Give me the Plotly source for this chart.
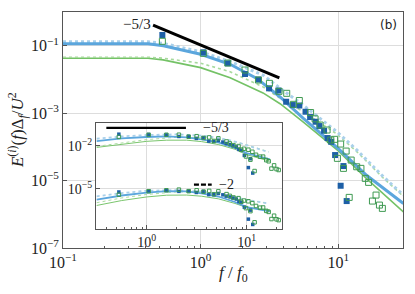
import numpy as np
import plotly.graph_objects as go

# ---------------- data (log10 values) ----------------
# main panel model curves: log10(f/f0), log10(E)
blue_line_lf = [-1, -0.382, -0.271, 0, 0.214, 0.408, 0.577, 0.744, 1.0, 1.207, 1.473]
blue_line_lE = [-0.94, -0.94, -1.0, -1.255, -1.55, -1.97, -2.52, -3.15, -4.05, -4.85, -5.68]
lblue_line_lf = [-1, -0.382, -0.273, 0, 0.214, 0.453, 0.577, 0.744, 0.989, 1.134, 1.328, 1.473]
lblue_line_lE = [-0.88, -0.88, -0.93, -1.18, -1.47, -1.87, -2.26, -2.76, -3.55, -4.09, -4.89, -5.43]
green_line_lf = [-1, -0.382, -0.273, 0, 0.214, 0.453, 0.577, 0.744, 1.0, 1.207, 1.473]
green_line_lE = [-1.37, -1.37, -1.42, -1.65, -1.95, -2.40, -2.72, -3.26, -4.12, -4.95, -5.93]
lgreen_line_lf = [-1, -0.382, -0.273, 0, 0.214, 0.453, 0.577, 0.744, 0.989, 1.134, 1.328, 1.473]
lgreen_line_lE = [-1.34, -1.34, -1.37, -1.52, -1.77, -2.22, -2.56, -2.95, -3.62, -4.14, -4.93, -5.47]

# measured spectra (markers)
blue_f = [0.527, 1.046, 1.574, 2.10, 2.63, 3.14, 3.67, 4.18, 4.67, 5.21, 5.78, 6.24, 6.84,
          7.29, 7.88, 8.36, 8.87, 9.48, 10.9, 10.4, 11.5]
blue_lE = [-0.682, -1.196, -1.522, -1.840, -2.003, -2.264, -2.329, -2.662, -2.760, -2.774, -2.958,
           -3.116, -3.255, -3.383, -3.522, -3.739, -3.849, -4.243, -4.570, -5.154, -5.608]
green_f = [0.527, 1.046, 1.574, 2.10, 2.63, 3.16, 3.71, 4.22, 4.72, 5.21, 6.29, 6.78, 7.38, 8.29,
           8.82, 9.40, 10.4, 11.4, 9.85, 10.9, 12.4, 13.6, 14.6, 15.7, 16.6, 12.0, 17.7, 18.8, 19.9, 20.9]
green_lE = [-0.869, -1.226, -1.513, -1.721, -2.018, -2.116, -2.353, -2.412, -2.739, -2.626, -2.982,
            -3.169, -3.353, -3.501, -3.798, -3.777, -3.917, -4.125, -4.341, -4.638, -4.392, -4.591,
            -4.638, -4.935, -5.053, -5.499, -5.608, -5.430, -5.727, -5.825]

# -5/3 guide line in main panel
guide_f = [0.451, 3.73]
guide_E = [0.411, 0.0112]

# inset: compensated spectra (upper group ~ f^(5/3) E, lower group ~ f^2 E), log10 values
in_blue_up = [-1.205, -1.223, -1.254, -1.362, -1.365, -1.496, -1.447, -1.687, -1.705, -1.639, -1.748,
              -1.851, -1.923, -2.004, -2.087, -2.262, -2.329, -2.674, -2.901, -3.517, -3.898]
in_blue_lo = [-5.208, -5.127, -5.098, -5.164, -5.135, -5.240, -5.169, -5.390, -5.392, -5.310, -5.404,
              -5.496, -5.555, -5.627, -5.698, -5.865, -5.923, -6.259, -6.466, -7.088, -7.454]
in_green_up = [-1.392, -1.253, -1.245, -1.243, -1.380, -1.344, -1.463, -1.429, -1.675, -1.491, -1.710,
               -1.844, -1.966, -2.029, -2.283, -2.215, -2.280, -2.423, -2.746, -2.969, -2.630, -2.761,
               -2.759, -3.003, -3.081, -3.757, -3.588, -3.365, -3.622, -3.685]
in_green_lo = [-5.395, -5.157, -5.089, -5.045, -5.150, -5.088, -5.183, -5.130, -5.361, -5.162, -5.354,
               -5.477, -5.587, -5.633, -5.878, -5.801, -5.851, -5.981, -6.325, -6.534, -6.176, -6.293,
               -6.282, -6.515, -6.585, -7.307, -7.082, -6.850, -7.099, -7.155]

in_line_lf = [-0.5, -0.25, 0, 0.2, 0.4, 0.55, 0.716, 0.883, 1.0, 1.233]
in_blue_line_up = [-1.68, -1.50, -1.40, -1.36, -1.42, -1.56, -1.78, -2.15, -2.52, -2.95]
in_blue_line_lo = [-5.74, -5.45, -5.25, -5.15, -5.17, -5.30, -5.52, -5.90, -6.25, -6.55]
in_green_line_up = [-2.12, -1.90, -1.70, -1.62, -1.62, -1.72, -1.92, -2.25, -2.62, -3.08]
in_green_line_lo = [-6.14, -5.80, -5.55, -5.43, -5.42, -5.50, -5.68, -6.00, -6.28, -6.45]
in_dot_lf = [-0.5, -0.25, 0, 0.3, 0.55, 0.75, 0.9, 1.0, 1.22]
in_lblue_line_up = [-1.52, -1.36, -1.26, -1.22, -1.30, -1.50, -1.75, -1.97, -2.45]
in_lblue_line_lo = [-5.51, -5.28, -5.12, -5.08, -5.18, -5.38, -5.60, -5.75, -6.00]
in_lgreen_line_up = [-2.05, -1.80, -1.58, -1.42, -1.42, -1.55, -1.75, -1.95, -2.42]
in_lgreen_line_lo = [-5.95, -5.62, -5.38, -5.20, -5.22, -5.38, -5.58, -5.75, -6.00]

in_guide53_f = [0.395, 2.47]
in_guide53_y = [0.168, 0.168]
in_guide2_f = [2.97, 4.47]
in_guide2_y = [2.0e-5, 2.0e-5]

main_xticks = [0.1, 1, 10]
main_xtext = ["10<sup>−1</sup>", "10<sup>0</sup>", "10<sup>1</sup>"]
main_xminor = [0.2, 0.3, 0.4, 0.5, 0.6, 0.7, 0.8, 0.9, 2, 3, 4, 5, 6, 7, 8, 9, 20, 30]
main_yticks = [1e-1, 1e-3, 1e-5, 1e-7]
main_ytext = ["10<sup>−1</sup>", "10<sup>−3</sup>", "10<sup>−5</sup>", "10<sup>−7</sup>"]
in_xticks = [1, 10]
in_xtext = ["10<sup>0</sup>", "10<sup>1</sup>"]
in_xminor = [0.4, 0.5, 0.6, 0.7, 0.8, 0.9, 2, 3, 4, 5, 6, 7, 8, 9, 20]
in_yticks = [1e-2, 1e-5]
in_ytext = ["10<sup>−2</sup>", "10<sup>−5</sup>"]

# ---------------- styling ----------------
C_BLUE = "#5ba6dd"
C_LBLUE = "#a9d0ea"
C_GREEN = "#74c266"
C_LGREEN = "#a7da9d"
C_MBLUE = "#1d5fa6"
C_MGREEN = "#3f9a52"
FONT = "Liberation Serif"


def p10(a):
    return 10 ** np.asarray(a, dtype=float)


fig = go.Figure()


def add_lines(xa, ya, lf_b, lE_b, lf_lb, lE_lb, lf_g, lE_g, lf_lg, lE_lg, scale=1.0):
    fig.add_trace(go.Scatter(x=p10(lf_g), y=p10(lE_g), mode="lines", xaxis=xa, yaxis=ya,
                             line=dict(color=C_GREEN, width=1.6 * scale), showlegend=False))
    fig.add_trace(go.Scatter(x=p10(lf_lg), y=p10(lE_lg), mode="lines", xaxis=xa, yaxis=ya,
                             line=dict(color=C_LGREEN, width=1.6 * scale, dash="dot"), showlegend=False))
    fig.add_trace(go.Scatter(x=p10(lf_lb), y=p10(lE_lb), mode="lines", xaxis=xa, yaxis=ya,
                             line=dict(color=C_LBLUE, width=3.0 * scale, dash="dot"), showlegend=False))
    fig.add_trace(go.Scatter(x=p10(lf_b), y=p10(lE_b), mode="lines", xaxis=xa, yaxis=ya,
                             line=dict(color=C_BLUE, width=3.0 * scale), showlegend=False))


def add_markers(xa, ya, bf, bE, gf, gE, size):
    fig.add_trace(go.Scatter(x=bf, y=p10(bE), mode="markers", xaxis=xa, yaxis=ya,
                             marker=dict(symbol="square", size=size, color=C_MBLUE,
                                         line=dict(width=0)), showlegend=False))
    fig.add_trace(go.Scatter(x=gf, y=p10(gE), mode="markers", xaxis=xa, yaxis=ya,
                             marker=dict(symbol="square-open", size=size, color=C_MGREEN,
                                         line=dict(width=1)), showlegend=False))


# main panel
add_lines("x", "y", blue_line_lf, blue_line_lE, lblue_line_lf, lblue_line_lE,
          green_line_lf, green_line_lE, lgreen_line_lf, lgreen_line_lE)
add_markers("x", "y", blue_f, blue_lE, green_f, green_lE, 6)
fig.add_trace(go.Scatter(x=guide_f, y=guide_E, mode="lines", line=dict(color="black", width=3),
                         showlegend=False))

# inset
add_lines("x2", "y2", in_line_lf, in_blue_line_up, in_dot_lf, in_lblue_line_up,
          in_line_lf, in_green_line_up, in_dot_lf, in_lgreen_line_up, scale=0.6)
add_lines("x2", "y2", in_line_lf, in_blue_line_lo, in_dot_lf, in_lblue_line_lo,
          in_line_lf, in_green_line_lo, in_dot_lf, in_lgreen_line_lo, scale=0.6)
add_markers("x2", "y2", blue_f, in_blue_up, green_f, in_green_up, 3.5)
add_markers("x2", "y2", blue_f, in_blue_lo, green_f, in_green_lo, 3.5)
fig.add_trace(go.Scatter(x=in_guide53_f, y=in_guide53_y, mode="lines", xaxis="x2", yaxis="y2",
                         line=dict(color="black", width=2.2), showlegend=False))
fig.add_trace(go.Scatter(x=in_guide2_f, y=in_guide2_y, mode="lines", xaxis="x2", yaxis="y2",
                         line=dict(color="black", width=2.2, dash="5px,2px"), showlegend=False))

axis_common = dict(type="log", showline=True, linecolor="#555555", linewidth=1, mirror=True,
                   showgrid=True, gridcolor="#dddddd", gridwidth=1, zeroline=False,
                   ticks="inside", ticklen=4, tickcolor="#555555")

fig.update_layout(
    width=415, height=294,
    margin=dict(l=63, r=12, t=12, b=46),
    paper_bgcolor="white", plot_bgcolor="white",
    font=dict(family=FONT, size=16, color="#222222"),
    xaxis=dict(**axis_common, range=[-1, 1.47], tickvals=main_xticks, ticktext=main_xtext,
               minor=dict(tickvals=main_xminor, ticks="inside", ticklen=2,
                          tickcolor="#555555", showgrid=False),
               tickfont=dict(size=16)),
    yaxis=dict(**axis_common, range=[-7, 0], tickvals=main_yticks, ticktext=main_ytext,
               tickfont=dict(size=16)),
    xaxis2=dict(**axis_common, domain=[0.097, 0.644], anchor="y2", range=[-0.507, 1.353],
                tickvals=in_xticks, ticktext=in_xtext,
                minor=dict(tickvals=in_xminor, ticks="inside", ticklen=2,
                           tickcolor="#555555", showgrid=False),
                tickfont=dict(size=14)),
    yaxis2=dict(**axis_common, domain=[0.0805, 0.5297], anchor="x2", range=[-7.77, -0.43],
                tickvals=in_yticks, ticktext=in_ytext, tickfont=dict(size=14)),
)

annotations = [
    dict(text="−5/3", x=-0.462, y=-0.356, xref="x", yref="y", showarrow=False,
         xanchor="center", yanchor="middle", font=dict(size=15, family=FONT)),
    dict(text="−5/3", x=0.54, y=-0.774, xref="x2", yref="y2", showarrow=False, xanchor="left",
         yanchor="middle", font=dict(size=14, family=FONT)),
    dict(text="−2", x=0.70, y=-4.667, xref="x2", yref="y2", showarrow=False, xanchor="left",
         yanchor="middle", font=dict(size=14, family=FONT)),
    dict(text="(b)", x=0.956, y=0.945, xref="paper", yref="paper", showarrow=False,
         xanchor="center", yanchor="middle", font=dict(size=12, family="DejaVu Sans")),
    dict(text="<i>E</i><sup>(<i>i</i>)</sup>(<i>f</i>)Δ<sub><i>f</i></sub>/<i>U</i><sup>2</sup>",
         x=-0.135, y=0.5, xref="paper", yref="paper", showarrow=False, textangle=-90,
         xanchor="center", yanchor="middle", font=dict(size=17, family=FONT)),
    dict(text="<i>f</i> / <i>f</i><sub>0</sub>", x=0.5, y=-0.11, xref="paper", yref="paper",
         showarrow=False, xanchor="center", yanchor="middle", font=dict(size=17, family=FONT)),
]
fig.update_layout(annotations=annotations)

fig.write_html("out.html", config={"displayModeBar": False},
               post_script="document.body.style.margin='0px';")
